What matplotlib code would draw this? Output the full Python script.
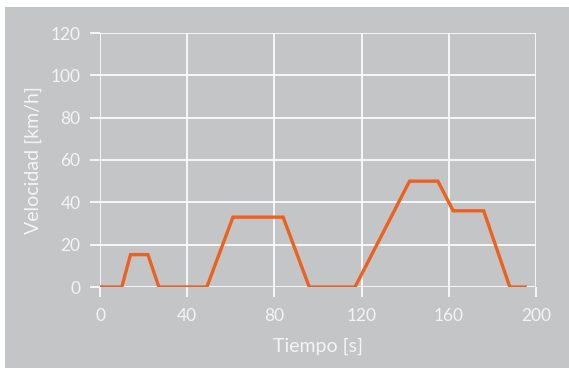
import matplotlib
matplotlib.use("Agg")
import matplotlib.pyplot as plt
from matplotlib.patches import Rectangle

# Data (ECE-15 style urban cycle)
tiempo = [0, 10, 14, 22, 27, 49, 61, 84, 96, 117, 142, 155, 162, 176, 188, 195]
velocidad = [0, 0, 15.3, 15.3, 0, 0, 33, 33, 0, 0, 50, 50, 36, 36, 0, 0]
x_ticks = [0, 40, 80, 120, 160, 200]
y_ticks = [0, 20, 40, 60, 80, 100, 120]

W, H = 569, 368
fig = plt.figure(figsize=(W / 100, H / 100), dpi=100, facecolor="white")
bg = "#c4c5c7"
rect = Rectangle((5 / W, 0), 1, 1 - 7 / H, transform=fig.transFigure,
                 facecolor=bg, edgecolor="none", zorder=-10)
fig.add_artist(rect)

ax = fig.add_axes([100 / W, 1 - 287 / H, (536 - 100) / W, (287 - 33) / H])
ax.set_zorder(1)
ax.set_facecolor(bg)
txt = "#f4f4f4"
font = "Lato"

ax.plot(tiempo, velocidad, color="#ea6120", lw=2.4, solid_joinstyle="miter", zorder=3)

ax.set_xlim(0, 200)
ax.set_ylim(0, 120)
ax.set_xticks(x_ticks)
ax.set_yticks(y_ticks)
ax.grid(True, color="white", lw=1.2)
ax.set_axisbelow(True)
for s in ax.spines.values():
    s.set_visible(False)
ax.tick_params(axis="both", colors="white", length=7, width=1.2, direction="out",
               labelcolor=txt, labelsize=12.5)
ax.tick_params(axis="y", pad=7)
ax.tick_params(axis="x", pad=8)
for lab in ax.get_xticklabels() + ax.get_yticklabels():
    lab.set_fontfamily(font)
ax.set_xlabel("Tiempo [s]", color=txt, fontsize=14, fontfamily=font, labelpad=10)
ax.set_ylabel("Velocidad [km/h]", color=txt, fontsize=14, fontfamily=font, labelpad=6)

fig.savefig("out.png", dpi=100, facecolor="white")
